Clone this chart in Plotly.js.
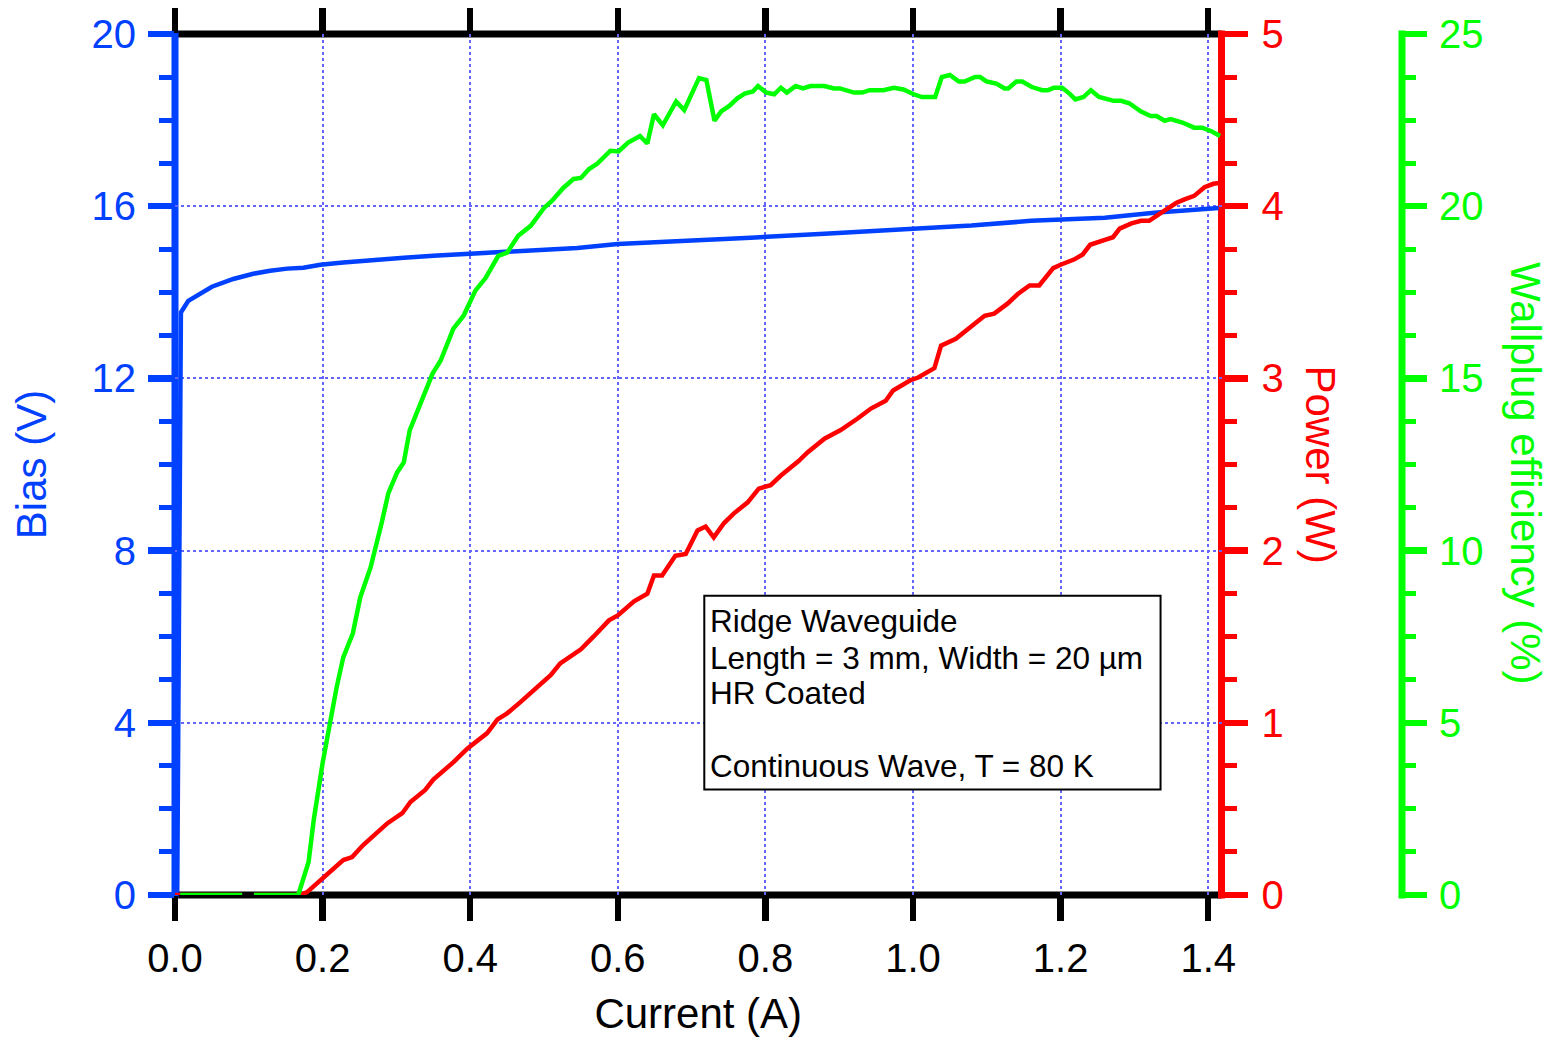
<!DOCTYPE html>
<html>
<head>
<meta charset="utf-8">
<script src="https://cdn.plot.ly/plotly-3.0.1.min.js"></script>
<style>html,body{margin:0;padding:0;background:#fff;}#chart{width:1552px;height:1037px;}</style>
</head>
<body>
<div id="chart"></div>
<script>
// ---- data ----
const currentBias = [0.003, 0.008, 0.018, 0.030, 0.050, 0.079, 0.106, 0.129, 0.152, 0.174, 0.197, 0.228, 0.265, 0.310, 0.350, 0.400, 0.491, 0.545, 0.600, 0.716, 0.780, 0.880, 0.980, 1.079, 1.160, 1.260, 1.327, 1.373, 1.414];
const bias = [0, 13.53, 13.80, 13.92, 14.13, 14.31, 14.43, 14.50, 14.55, 14.57, 14.64, 14.69, 14.73, 14.80, 14.85, 14.90, 14.99, 15.03, 15.12, 15.20, 15.27, 15.36, 15.45, 15.55, 15.66, 15.73, 15.85, 15.92, 15.96];

const currentPower = [0, 0.091, 0.100, 0.107, 0.170, 0.179, 0.200, 0.210, 0.228, 0.240, 0.255, 0.288, 0.308, 0.319, 0.339, 0.350, 0.377, 0.396, 0.423, 0.437, 0.450, 0.468, 0.479, 0.509, 0.522, 0.550, 0.567, 0.588, 0.600, 0.622, 0.640, 0.649, 0.660, 0.678, 0.692, 0.708, 0.719, 0.730, 0.744, 0.757, 0.776, 0.791, 0.807, 0.821, 0.845, 0.857, 0.880, 0.902, 0.925, 0.943, 0.963, 0.973, 0.997, 1.007, 1.029, 1.038, 1.058, 1.079, 1.097, 1.110, 1.128, 1.142, 1.158, 1.171, 1.190, 1.200, 1.218, 1.230, 1.240, 1.260, 1.271, 1.280, 1.296, 1.309, 1.320, 1.334, 1.357, 1.368, 1.381, 1.395, 1.407, 1.415];
const power = [0, 0, null, 0, 0, 0.017, 0.097, 0.127, 0.203, 0.22, 0.29, 0.417, 0.475, 0.54, 0.61, 0.67, 0.77, 0.85, 0.94, 1.02, 1.055, 1.12, 1.16, 1.276, 1.345, 1.427, 1.50, 1.595, 1.624, 1.705, 1.75, 1.856, 1.856, 1.97, 1.98, 2.117, 2.14, 2.077, 2.16, 2.215, 2.28, 2.36, 2.38, 2.436, 2.52, 2.57, 2.65, 2.70, 2.767, 2.825, 2.87, 2.93, 2.99, 3.005, 3.06, 3.19, 3.23, 3.306, 3.364, 3.376, 3.434, 3.49, 3.54, 3.54, 3.64, 3.66, 3.69, 3.72, 3.776, 3.805, 3.82, 3.87, 3.90, 3.915, 3.915, 3.956, 4.02, 4.04, 4.06, 4.11, 4.13, 4.135];

const currentWpe = [0.007, 0.091, 0.100, 0.107, 0.167, 0.181, 0.188, 0.200, 0.207, 0.210, 0.219, 0.228, 0.241, 0.251, 0.265, 0.280, 0.289, 0.301, 0.310, 0.318, 0.330, 0.349, 0.360, 0.377, 0.391, 0.407, 0.421, 0.438, 0.450, 0.465, 0.482, 0.500, 0.511, 0.526, 0.540, 0.550, 0.561, 0.572, 0.590, 0.601, 0.614, 0.630, 0.640, 0.649, 0.661, 0.679, 0.690, 0.710, 0.720, 0.731, 0.740, 0.751, 0.762, 0.772, 0.783, 0.790, 0.801, 0.812, 0.821, 0.829, 0.841, 0.851, 0.861, 0.880, 0.893, 0.901, 0.920, 0.931, 0.941, 0.960, 0.974, 0.987, 1.001, 1.012, 1.030, 1.039, 1.050, 1.062, 1.070, 1.084, 1.091, 1.100, 1.113, 1.124, 1.129, 1.140, 1.148, 1.161, 1.175, 1.183, 1.191, 1.202, 1.212, 1.220, 1.231, 1.241, 1.252, 1.272, 1.282, 1.293, 1.309, 1.322, 1.330, 1.341, 1.349, 1.365, 1.381, 1.392, 1.405, 1.416];
const wallplug = [0, 0, null, 0, 0, 0.96, 2.18, 3.83, 4.70, 5.08, 6.03, 6.90, 7.60, 8.64, 9.51, 10.8, 11.66, 12.27, 12.56, 13.49, 14.12, 15.14, 15.52, 16.44, 16.82, 17.55, 17.92, 18.56, 18.65, 19.14, 19.43, 19.95, 20.16, 20.53, 20.79, 20.82, 21.08, 21.23, 21.61, 21.59, 21.85, 22.04, 21.82, 22.67, 22.35, 23.04, 22.79, 23.72, 23.66, 22.48, 22.75, 22.91, 23.13, 23.27, 23.33, 23.49, 23.30, 23.25, 23.44, 23.30, 23.49, 23.42, 23.49, 23.49, 23.42, 23.42, 23.30, 23.30, 23.37, 23.37, 23.44, 23.39, 23.25, 23.17, 23.17, 23.75, 23.81, 23.62, 23.62, 23.75, 23.75, 23.62, 23.56, 23.42, 23.42, 23.62, 23.62, 23.46, 23.37, 23.37, 23.44, 23.44, 23.27, 23.10, 23.17, 23.37, 23.17, 23.06, 23.06, 22.99, 22.75, 22.62, 22.62, 22.48, 22.53, 22.43, 22.28, 22.28, 22.17, 22.04];

const infoLines = ["Ridge Waveguide", "Length = 3 mm, Width = 20 \u00b5m", "HR Coated", "", "Continuous Wave, T = 80 K"];

// ---- styling ----
const FONT = "Liberation Sans, Arial, Helvetica, sans-serif";
const BLUE = "#0041ff", RED = "#ff0000", GREEN = "#00ff00", GRID = "#6464ff";
const ML = 175, MR = 50, MT = 33.5, MB = 141.5, W = 1552, H = 1037;
const PW = W - ML - MR, PH = H - MT - MB;
const xEnd = (1221.5 - ML) / PW;
const greenPos = (1402 - ML) / PW;
const ext = 3.5 / PH;

const traces = [
  {x: currentBias, y: bias, type: "scatter", mode: "lines", yaxis: "y", line: {color: BLUE, width: 4.5}, name: "Bias"},
  {x: currentPower, y: power, type: "scatter", mode: "lines", yaxis: "y2", line: {color: RED, width: 4.5}, name: "Power", connectgaps: false},
  {x: currentWpe, y: wallplug, type: "scatter", mode: "lines", yaxis: "y3", line: {color: GREEN, width: 4.5}, name: "Wallplug", connectgaps: false}
];

const yCommon = {
  ticks: "outside", ticklen: 25, tickwidth: 6.5, showline: false,
  zeroline: false, automargin: false, fixedrange: true
};

const layout = {
  width: W, height: H,
  margin: {l: ML, r: MR, t: MT, b: MB},
  paper_bgcolor: "#fff", plot_bgcolor: "#fff",
  showlegend: false,
  font: {family: FONT, color: "#000"},
  xaxis: {
    domain: [0, xEnd], range: [0, 1.418], dtick: 0.2, tick0: 0, tickformat: ".1f",
    ticks: "outside", ticklen: 25, tickwidth: 6.5, tickcolor: "#000",
    showline: false, mirror: "ticks", ticklabelstandoff: 3,
    showgrid: true, gridcolor: GRID, gridwidth: 2, griddash: "dot",
    zeroline: false, automargin: false,
    tickfont: {size: 40, color: "#000", family: FONT},
    title: {text: "Current (A)", font: {size: 42, color: "#000", family: FONT}, standoff: 19}
  },
  yaxis: Object.assign({}, yCommon, {
    range: [0, 20], dtick: 4, tick0: 0, side: "left", ticklen: 26, ticklabelstandoff: 4,
    tickcolor: BLUE,
    minor: {dtick: 1, ticklen: 15, tickwidth: 5, tickcolor: BLUE, ticks: "outside"},
    showgrid: true, gridcolor: GRID, gridwidth: 2, griddash: "dot",
    tickfont: {size: 40, color: BLUE, family: FONT},
    title: {text: "Bias (V)", font: {size: 42, color: BLUE, family: FONT}, standoff: 31}
  }),
  yaxis2: Object.assign({}, yCommon, {
    range: [0, 5], dtick: 1, tick0: 0, side: "right", overlaying: "y", anchor: "x", ticklabelstandoff: 6,
    tickcolor: RED, showgrid: false,
    minor: {dtick: 0.25, ticklen: 14, tickwidth: 5, tickcolor: RED, ticks: "outside"},
    tickfont: {size: 40, color: RED, family: FONT}
  }),
  yaxis3: Object.assign({}, yCommon, {
    range: [0, 25], dtick: 5, tick0: 0, side: "right", overlaying: "y", anchor: "free", position: greenPos,
    tickcolor: GREEN, showgrid: false, ticklen: 24, ticklabelstandoff: 4,
    minor: {dtick: 1.25, ticklen: 13, tickwidth: 5, tickcolor: GREEN, ticks: "outside"},
    tickfont: {size: 40, color: GREEN, family: FONT}
  }),
  shapes: [
    // axis lines, centred on the plot edges
    {type: "line", xref: "paper", yref: "paper", x0: 0, x1: xEnd, y0: 0, y1: 0, line: {color: "#000", width: 7}, layer: "between"},
    {type: "line", xref: "paper", yref: "paper", x0: 0, x1: xEnd, y0: 1, y1: 1, line: {color: "#000", width: 7}, layer: "between"},
    {type: "line", xref: "paper", yref: "paper", x0: 0, x1: 0, y0: -ext, y1: 1 + ext, line: {color: BLUE, width: 7}, layer: "between"},
    {type: "line", xref: "paper", yref: "paper", x0: xEnd, x1: xEnd, y0: -ext, y1: 1 + ext, line: {color: RED, width: 7}, layer: "between"},
    {type: "line", xref: "paper", yref: "paper", x0: greenPos, x1: greenPos, y0: -ext, y1: 1 + ext, line: {color: GREEN, width: 7}, layer: "between"},
    // info box
    {type: "rect", xref: "x", yref: "y", x0: (704 - 175) / 737.6, x1: (1160 - 175) / 737.6,
     y0: (895.5 - 790) / 43.1, y1: (895.5 - 596) / 43.1, line: {color: "#000", width: 2}, fillcolor: "#fff", layer: "above"}
  ],
  annotations: [
    {text: "Power (W)", xref: "paper", yref: "paper", x: (1320 - ML) / PW, y: 0.5, textangle: 90,
     showarrow: false, xanchor: "center", yanchor: "middle", font: {size: 42, color: RED, family: FONT}},
    {text: "Wallplug efficiency (%)", xref: "paper", yref: "paper", x: (1526 - ML) / PW, y: 0.49, textangle: 90,
     showarrow: false, xanchor: "center", yanchor: "middle", font: {size: 42, color: GREEN, family: FONT}}
  ]
};

// info box lines (positioned in the bias-axis frame)
const lineY = [621, 658, 693, 730, 766];
infoLines.forEach((t, i) => {
  if (!t) return;
  layout.annotations.push({
    text: t, xref: "x", yref: "y", x: (708 - 175) / 737.6, y: (895.5 - lineY[i]) / 43.1,
    xanchor: "left", yanchor: "middle", showarrow: false,
    font: {size: 31.5, color: "#000", family: FONT}
  });
});

Plotly.newPlot("chart", traces, layout, {displayModeBar: false, staticPlot: true});
</script>
</body>
</html>
